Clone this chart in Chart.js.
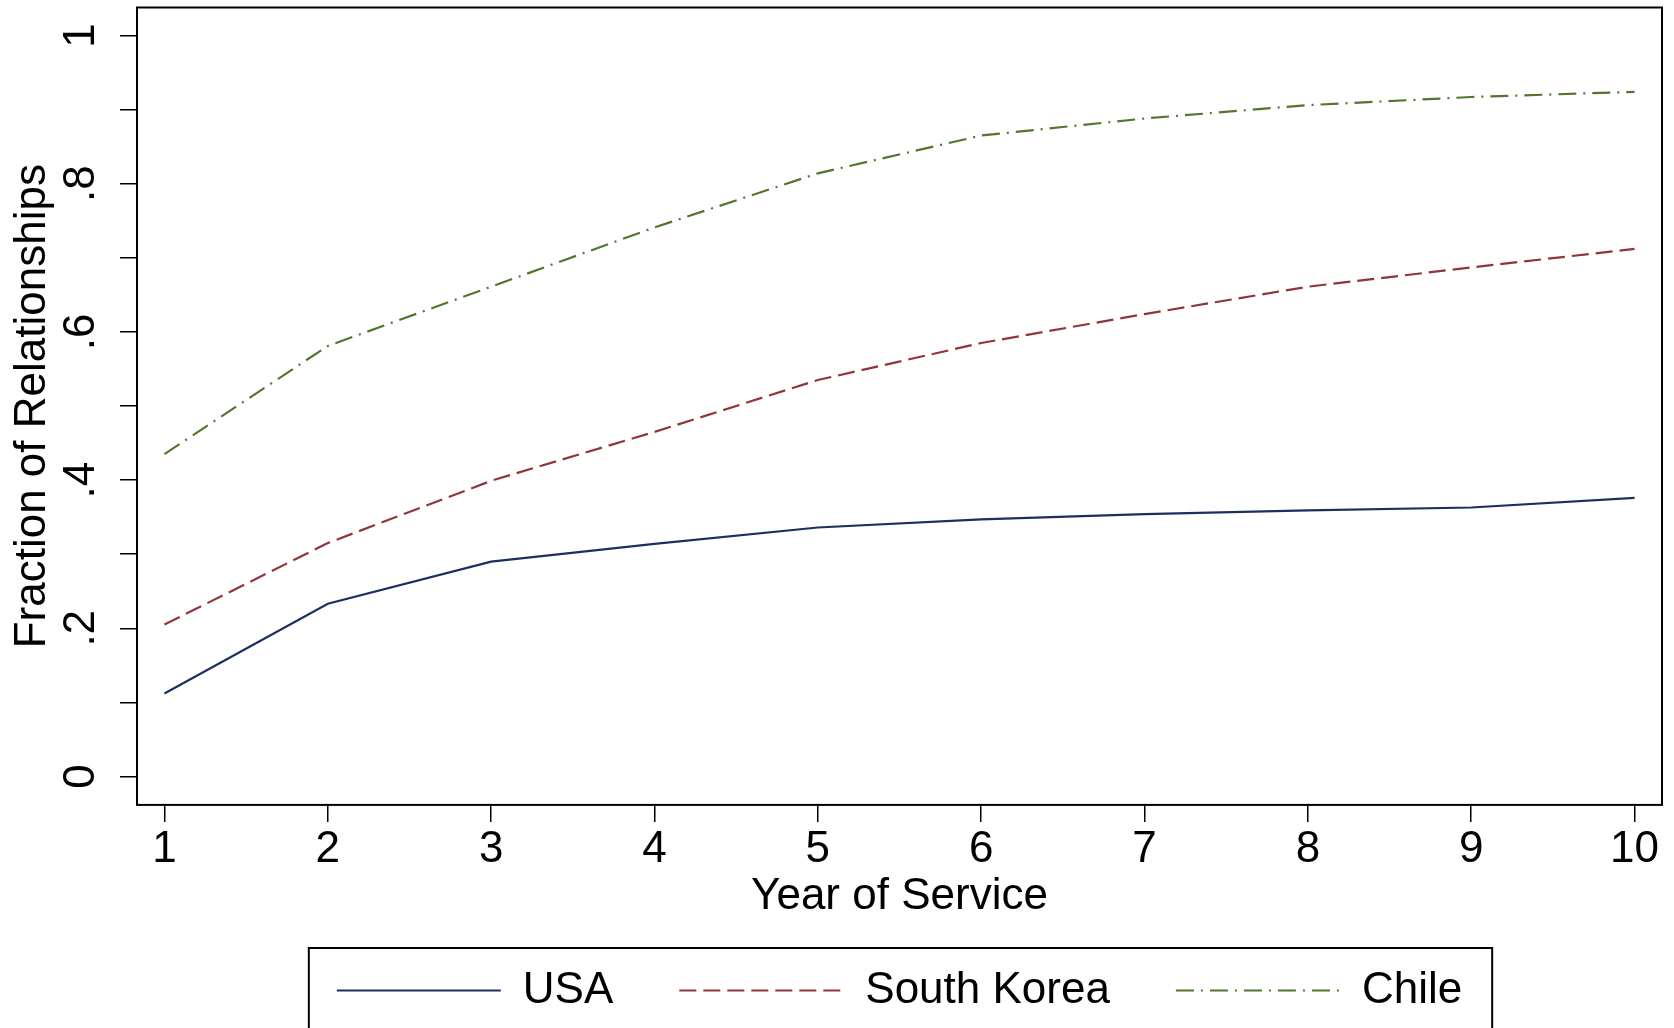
<!DOCTYPE html>
<html>
<head>
<meta charset="utf-8">
<script src="https://cdn.jsdelivr.net/npm/chart.js@4.4.1/dist/chart.umd.min.js"></script>
<style>
  html, body { margin: 0; padding: 0; background: #fff; }
</style>
</head>
<body>
<canvas id="chart" width="1674" height="1028"></canvas>
<script>
// Data
const years = [1, 2, 3, 4, 5, 6, 7, 8, 9, 10];
const usa = [0.112, 0.233, 0.290, 0.314, 0.336, 0.347, 0.354, 0.359, 0.363, 0.376];
const southKorea = [0.205, 0.315, 0.399, 0.465, 0.535, 0.585, 0.624, 0.661, 0.687, 0.712];
const chile = [0.435, 0.581, 0.661, 0.741, 0.814, 0.865, 0.888, 0.906, 0.917, 0.924];
const yLabels = { 0: "0", 2: ".2", 4: ".4", 6: ".6", 8: ".8", 10: "1" };

Chart.defaults.font.family = "'Liberation Sans', Arial, sans-serif";
Chart.defaults.color = "#000";

function points(values) {
  return years.map((yr, i) => ({ x: yr, y: values[i] }));
}

// Box round the plot and round the legend
const frames = {
  id: "frames",
  afterDraw(chart) {
    const ctx = chart.ctx;
    const a = chart.chartArea;
    ctx.save();
    ctx.strokeStyle = "#000";
    ctx.lineWidth = 2;
    ctx.strokeRect(a.left, a.top, a.right - a.left, a.bottom - a.top);
    const boxes = chart.legend.legendHitBoxes;
    if (boxes && boxes.length) {
      const first = boxes[0];
      const last = boxes[boxes.length - 1];
      const x0 = first.left - 28;
      const x1 = last.left + last.width + 30;
      const mid = first.top + first.height / 2;
      ctx.strokeRect(x0, mid - 42.5, x1 - x0, 85);
    }
    ctx.restore();
  }
};

const axisGrid = {
  drawOnChartArea: false,
  drawTicks: true,
  tickLength: 17,
  color: "#000",
  lineWidth: 1.5
};

new Chart(document.getElementById("chart").getContext("2d"), {
  type: "line",
  data: {
    datasets: [
      { label: "USA", data: points(usa), borderColor: "#1c2f5e", borderWidth: 2.2 },
      { label: "South Korea", data: points(southKorea), borderColor: "#90353b", borderWidth: 2.2, borderDash: [17, 7] },
      { label: "Chile", data: points(chile), borderColor: "#55752f", borderWidth: 2.2, borderDash: [18, 7, 2, 7] }
    ]
  },
  options: {
    responsive: false,
    animation: false,
    events: [],
    elements: { point: { radius: 0 }, line: { tension: 0, fill: false } },
    layout: { padding: { top: 7.5, right: 12, bottom: 5.5, left: 0 } },
    plugins: {
      tooltip: { enabled: false },
      legend: {
        position: "bottom",
        fullSize: false,
        labels: {
          usePointStyle: true,
          pointStyle: "line",
          pointStyleWidth: 164,
          padding: 66,
          color: "#000",
          font: { size: 44 },
          // keep each dataset's dash pattern in its legend line
          generateLabels: chart =>
            Chart.defaults.plugins.legend.labels.generateLabels(chart).map(item => {
              const ds = chart.data.datasets[item.datasetIndex];
              return Object.assign(item, {
                lineDash: ds.borderDash || [],
                lineWidth: ds.borderWidth,
                strokeStyle: ds.borderColor
              });
            })
        }
      }
    },
    scales: {
      x: {
        type: "linear",
        min: 0.832,
        max: 10.168,
        border: { display: false },
        grid: axisGrid,
        ticks: { stepSize: 1, includeBounds: false, autoSkip: false, maxRotation: 0, padding: 2, font: { size: 44 } },
        title: { display: true, text: "Year of Service", font: { size: 44 }, padding: { top: -8, bottom: -21 } },
        afterFit: s => { s.paddingLeft = 0; s.paddingRight = 0; }
      },
      y: {
        min: -0.0384,
        max: 1.0378,
        border: { display: false },
        grid: axisGrid,
        ticks: {
          stepSize: 0.1,
          includeBounds: false,
          autoSkip: false,
          minRotation: 90,
          maxRotation: 90,
          crossAlign: "center",
          padding: 19.6,
          font: { size: 44 },
          callback: v => {
            const n = Math.round(v * 10);
            return yLabels[n] !== undefined ? yLabels[n] : "";
          }
        },
        title: { display: true, text: "Fraction of Relationships", font: { size: 44 }, padding: { top: 6.4, bottom: 4.5 } },
        afterFit: s => { s.paddingTop = 0; s.paddingBottom = 0; s.width = 137; }
      }
    }
  },
  plugins: [frames]
});
</script>
</body>
</html>
